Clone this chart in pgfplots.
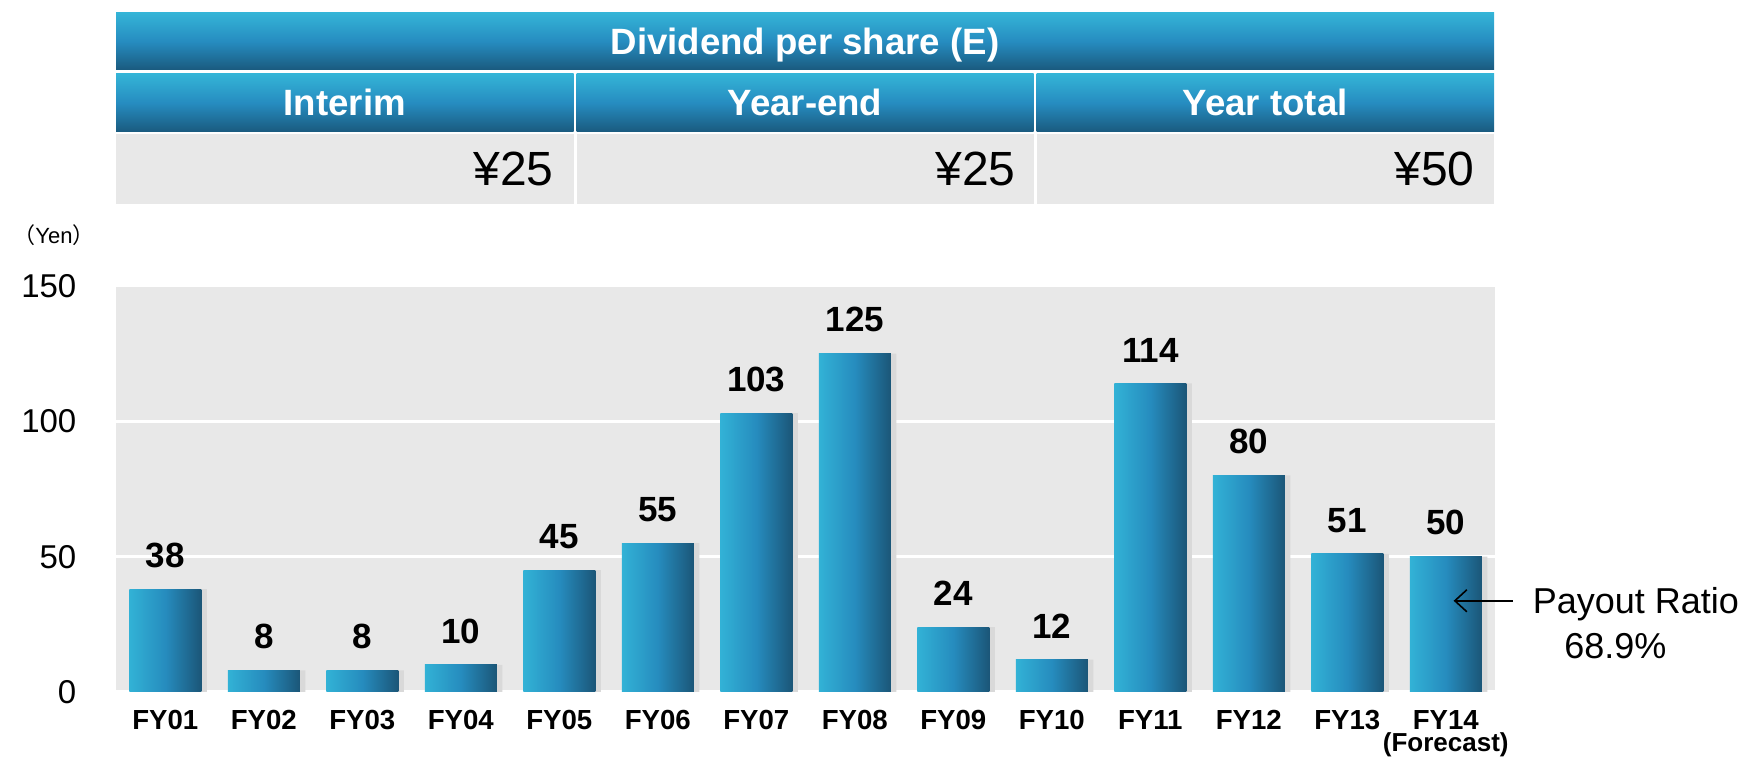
\documentclass[border=0pt]{standalone}
\usepackage{fontspec}
\setmainfont{Liberation Sans}
\newfontfamily\cjk{Noto Sans CJK JP}
\usepackage{pgfplots}
\usepackage{pgfplotstable}
\pgfplotsset{compat=1.18}
\usetikzlibrary{arrows.meta}
\definecolor{bggray}{RGB}{232,232,232}
\definecolor{barL}{RGB}{50,178,214}
\definecolor{barM}{RGB}{38,140,190}
\definecolor{barR}{RGB}{27,86,120}
\definecolor{hTop}{RGB}{52,180,215}
\definecolor{hMid}{RGB}{38,140,192}
\definecolor{hBot}{RGB}{26,90,126}
\pgfplotstableread{
x y
0 38
1 8
2 8
3 10
4 45
5 55
6 103
7 125
8 24
9 12
10 114
11 80
12 51
13 50
}\divdata
\begin{document}
\begin{tikzpicture}
\useasboundingbox (0,0) rectangle (874pt,379pt);
% table header row 1
\shade[top color=hTop, bottom color=hBot, middle color=hMid] (58pt,344pt) rectangle (747pt,372.5pt);
\node[text=white, font=\bfseries\fontsize{18.3}{18.3}\selectfont, anchor=base, inner sep=0pt] at (402.5pt,351.8pt) {Dividend per share (E)};
% row 2
\shade[top color=hTop, bottom color=hBot, middle color=hMid] (58pt,313pt) rectangle (286.75pt,342pt);
\shade[top color=hTop, bottom color=hBot, middle color=hMid] (288.25pt,313pt) rectangle (516.75pt,342pt);
\shade[top color=hTop, bottom color=hBot, middle color=hMid] (518.25pt,313pt) rectangle (747pt,342pt);
\node[text=white, font=\bfseries\fontsize{18.3}{18.3}\selectfont, anchor=base, inner sep=0pt] at (172.4pt,321.3pt) {Interim};
\node[text=white, font=\bfseries\fontsize{18.3}{18.3}\selectfont, anchor=base, inner sep=0pt] at (402.5pt,321.3pt) {Year-end};
\node[text=white, font=\bfseries\fontsize{18.3}{18.3}\selectfont, anchor=base, inner sep=0pt] at (632.6pt,321.3pt) {Year total};
% row 3
\fill[bggray] (58pt,277pt) rectangle (286.75pt,312pt);
\fill[bggray] (288.25pt,277pt) rectangle (516.75pt,312pt);
\fill[bggray] (518.25pt,277pt) rectangle (747pt,312pt);
\node[font=\fontsize{24}{24}\selectfont, anchor=base east, inner sep=0pt] at (277pt,286.3pt) {¥25};
\node[font=\fontsize{24}{24}\selectfont, anchor=base east, inner sep=0pt] at (508pt,286.3pt) {¥25};
\node[font=\fontsize{24}{24}\selectfont, anchor=base east, inner sep=0pt] at (737.5pt,286.3pt) {¥50};
% unit
\node[anchor=base west, inner sep=0pt, font=\fontsize{11}{11}\selectfont] at (6.5pt,257pt) {{\cjk （}Yen{\cjk ）}};
\begin{axis}[
  at={(58pt,33pt)}, anchor=south west, scale only axis,
  width=689.5pt, height=203pt,
  xmin=-0.5, xmax=13.5, ymin=0, ymax=150,
  ytick={0,50,100,150},
  xtick={0,1,2,3,4,5,6,7,8,9,10,11,12,13},
  xticklabels={FY01,FY02,FY03,FY04,FY05,FY06,FY07,FY08,FY09,FY10,FY11,FY12,FY13,{FY14\\\fontsize{13}{11}\selectfont(Forecast)}},
  axis background/.style={fill=bggray},
  axis line style={draw=none}, major tick length=0pt,
  ymajorgrids, grid style={white, line width=1.5pt},
  /pgf/number format/assume math mode=true,
  yticklabel style={font=\fontsize{16.5}{16.5}\selectfont, xshift=-16.3pt},
  xticklabel style={font=\bfseries\fontsize{13.8}{11}\selectfont, align=center, yshift=-5.5pt},
  clip=false,
]
\addplot[ybar, bar width=36pt, bar shift=2.8pt, draw=none, fill=black!15] table[x=x,y=y] {\divdata};
\pgfplotsinvokeforeach{0,...,13}{
\addplot[ybar, bar width=36pt, bar shift=0pt, draw=none, left color=barL, right color=barR, middle color=barM,
  restrict expr to domain={\coordindex}{#1:#1},
  nodes near coords,
  nodes near coords style={font=\bfseries\fontsize{17.5}{17.5}\selectfont, inner sep=0pt, anchor=south, yshift=10.5pt, text=black}] table[x=x,y=y] {\divdata};
}
\draw[{Straight Barb[length=6pt,width=11pt]}-, line width=0.8pt] (axis cs:13.08,33.7) -- (axis cs:13.68,33.7);
\node[anchor=base west, inner sep=0pt, font=\fontsize{18}{18}\selectfont] at (axis cs:13.88,29.0) {Payout Ratio};
\node[anchor=base west, inner sep=0pt, font=\fontsize{18}{18}\selectfont] at (axis cs:14.2,12.5) {68.9\%};
\end{axis}
\end{tikzpicture}
\end{document}
